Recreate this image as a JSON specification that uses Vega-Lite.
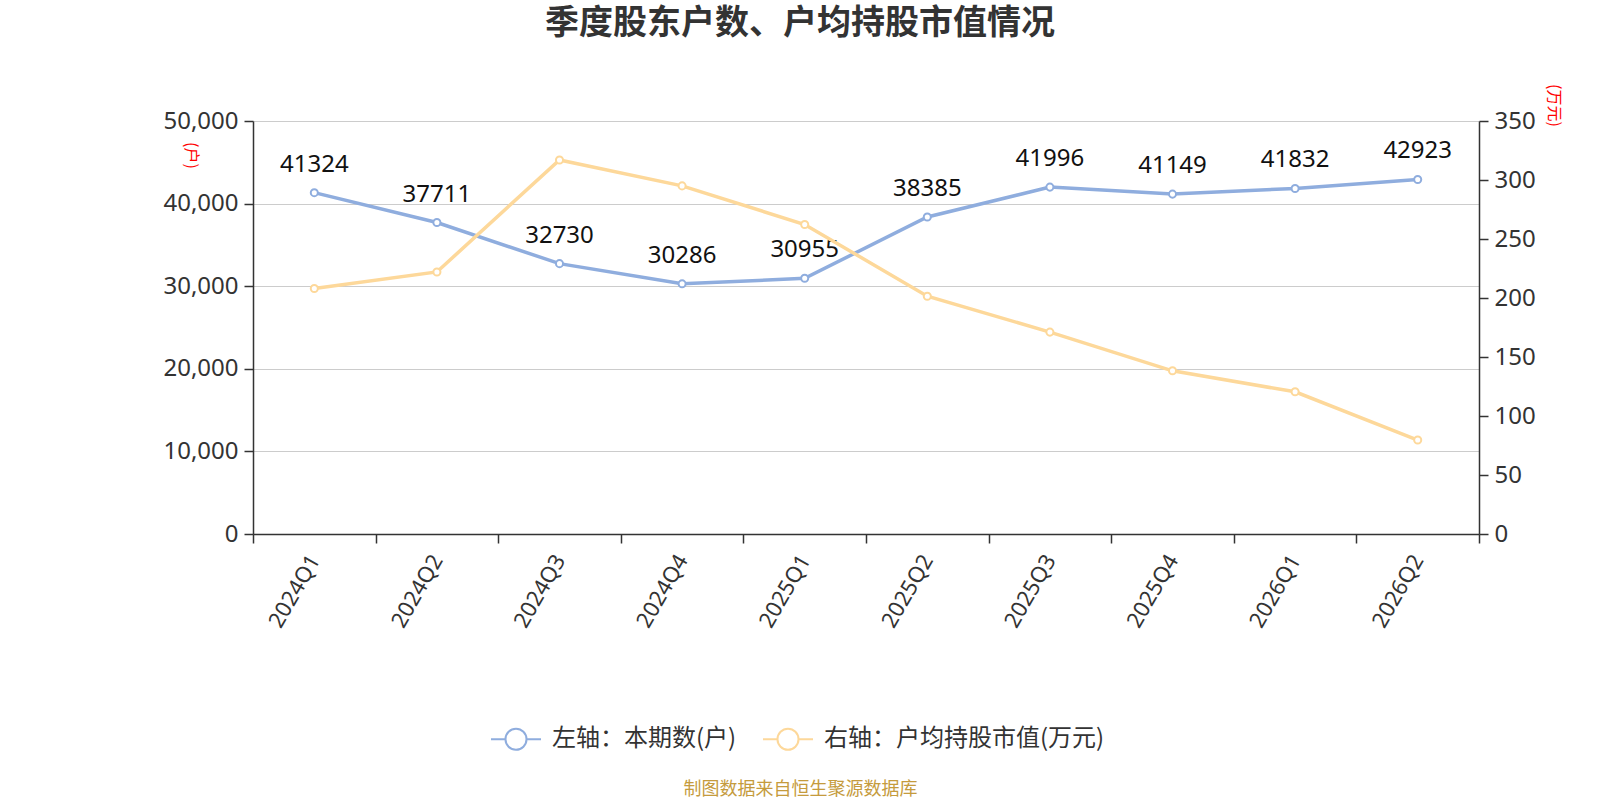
{
  "$schema": "https://vega.github.io/schema/vega-lite/v6.json",
  "width": 1226,
  "height": 413,
  "autosize": {"type": "none"},
  "padding": {"left": 253, "top": 121, "right": 121, "bottom": 266},
  "background": "white",
  "title": {
    "text": "季度股东户数、户均持股市值情况",
    "font": "Noto Sans CJK SC",
    "fontSize": 34,
    "fontWeight": "bold",
    "color": "#333333",
    "anchor": "middle",
    "baseline": "middle",
    "dx": -66,
    "offset": 26
  },
  "config": {
    "view": {"stroke": null},
    "font": "Noto Sans CJK SC",
    "axis": {
      "labelFont": "Noto Sans",
      "titleFont": "Noto Sans CJK SC",
      "domainColor": "#333333",
      "tickColor": "#333333",
      "labelColor": "#333333",
      "gridColor": "#cccccc",
      "domainWidth": 1.5,
      "tickWidth": 1.5
    }
  },
  "data": {
    "values": [
      {"quarter": "2024Q1", "holders": 41324, "mv": 208.1},
      {"quarter": "2024Q2", "holders": 37711, "mv": 222.1},
      {"quarter": "2024Q3", "holders": 32730, "mv": 317.0},
      {"quarter": "2024Q4", "holders": 30286, "mv": 295.0},
      {"quarter": "2025Q1", "holders": 30955, "mv": 262.3},
      {"quarter": "2025Q2", "holders": 38385, "mv": 201.5},
      {"quarter": "2025Q3", "holders": 41996, "mv": 171.1},
      {"quarter": "2025Q4", "holders": 41149, "mv": 138.3},
      {"quarter": "2026Q1", "holders": 41832, "mv": 120.5},
      {"quarter": "2026Q2", "holders": 42923, "mv": 79.6}
    ]
  },
  "encoding": {
    "x": {
      "field": "quarter",
      "type": "ordinal",
      "sort": null,
      "scale": {"type": "band", "paddingInner": 0, "paddingOuter": 0},
      "axis": {
        "title": "制图数据来自恒生聚源数据库",
        "titleColor": "#c59b3d",
        "titleFontSize": 18,
        "titleFontWeight": "normal",
        "titleX": 547,
        "titleY": 255,
        "titleAlign": "center",
        "titleBaseline": "middle",
        "labelAngle": -60,
        "labelAlign": "right",
        "labelBaseline": "middle",
        "labelFontSize": 22,
        "labelPadding": 13,
        "tickSize": 9,
        "tickBand": "extent",
        "grid": false
      }
    }
  },
  "layer": [
    {
      "encoding": {
        "y": {
          "field": "holders",
          "type": "quantitative",
          "scale": {"domain": [0, 50000], "nice": false},
          "axis": {
            "orient": "left",
            "values": [0, 10000, 20000, 30000, 40000, 50000],
            "format": ",d",
            "labelFontSize": 24,
            "tickSize": 9,
            "labelPadding": 6,
            "grid": true,
            "title": "(户)",
            "titleColor": "red",
            "titleFontSize": 16,
            "titleFontWeight": "normal",
            "titleAngle": 90,
            "titleX": -63,
            "titleY": 34,
            "titleAlign": "center",
            "titleBaseline": "middle"
          }
        },
        "color": {
          "datum": "左轴：本期数(户)",
          "type": "nominal",
          "scale": {
            "domain": ["左轴：本期数(户)", "右轴：户均持股市值(万元)"],
            "range": ["#8fadde", "#fdd89a"]
          },
          "legend": {
            "title": null,
            "orient": "none",
            "direction": "horizontal",
            "legendX": 237,
            "legendY": 592,
            "symbolType": "M-1,0L-0.42,0M0.42,0L1,0M0.42,0A0.42,0.42,0,1,1,-0.42,0A0.42,0.42,0,1,1,0.42,0",
            "symbolSize": 2500,
            "symbolStrokeWidth": 2,
            "symbolFillColor": "white",
            "labelFontSize": 24,
            "labelColor": "#333333",
            "labelFont": "Noto Sans CJK SC",
            "labelOffset": 10,
            "labelLimit": 0,
            "columnPadding": 22
          }
        }
      },
      "layer": [
        {"mark": {"type": "line", "strokeWidth": 3.5}},
        {"mark": {"type": "point", "filled": false, "fill": "white", "fillOpacity": 1, "opacity": 1, "size": 50, "strokeWidth": 2}},
        {
          "mark": {"type": "text", "fontSize": 24, "dy": -21, "baseline": "alphabetic", "font": "Noto Sans"},
          "encoding": {
            "text": {"field": "holders", "type": "quantitative", "format": "d"},
            "color": {"value": "#111111"}
          }
        }
      ]
    },
    {
      "encoding": {
        "y": {
          "field": "mv",
          "type": "quantitative",
          "scale": {"domain": [0, 350], "nice": false},
          "axis": {
            "orient": "right",
            "values": [0, 50, 100, 150, 200, 250, 300, 350],
            "format": "d",
            "labelFontSize": 24,
            "tickSize": 9,
            "labelPadding": 6,
            "grid": false,
            "title": "(万元)",
            "titleColor": "red",
            "titleFontSize": 16,
            "titleFontWeight": "normal",
            "titleAngle": 90,
            "titleX": 74,
            "titleY": -16,
            "titleAlign": "center",
            "titleBaseline": "middle"
          }
        },
        "color": {"datum": "右轴：户均持股市值(万元)", "type": "nominal"}
      },
      "layer": [
        {"mark": {"type": "line", "strokeWidth": 3.5}},
        {"mark": {"type": "point", "filled": false, "fill": "white", "fillOpacity": 1, "opacity": 1, "size": 50, "strokeWidth": 2}}
      ]
    }
  ],
  "resolve": {"scale": {"y": "independent"}}
}
